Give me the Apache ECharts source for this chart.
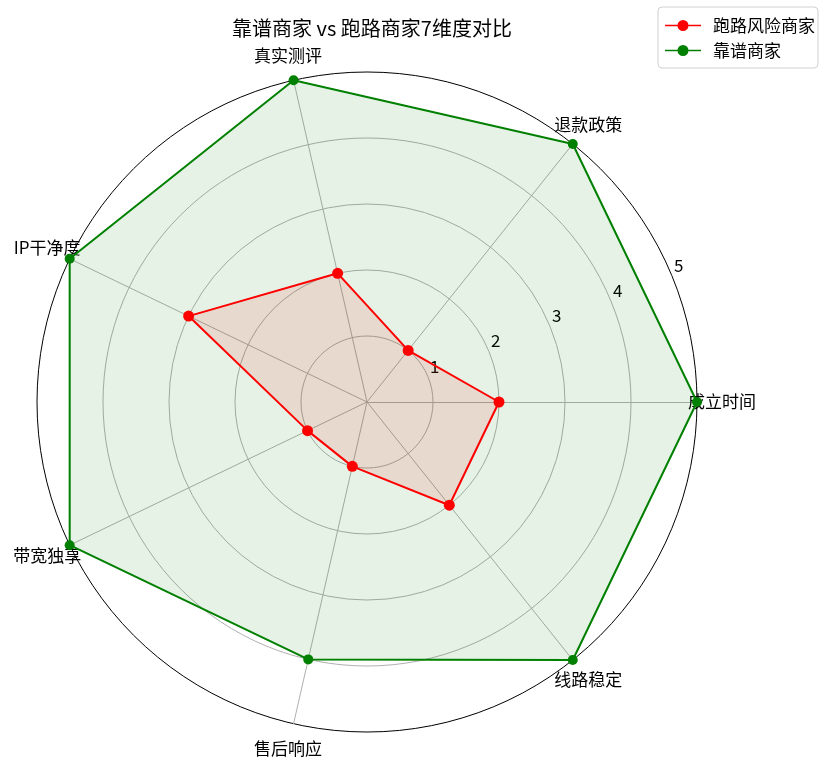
<!DOCTYPE html>
<html>
<head>
<meta charset="utf-8">
<script src="https://cdn.jsdelivr.net/npm/echarts@6/dist/echarts.min.js"></script>
<style>
  html, body { margin: 0; padding: 0; background: #fff; }
  #chart { width: 835px; height: 769px; }
</style>
</head>
<body>
<div id="chart"></div>
<script>
// 维度
var dimensions = ['成立时间', '退款政策', '真实测评', 'IP干净度', '带宽独享', '售后响应', '线路稳定'];
// 跑路风险商家
var riskyValues = [2, 1, 2, 3, 1, 1, 2];
// 靠谱商家
var reliableValues = [5, 5, 5, 5, 5, 4, 5];
var radialTicks = [1, 2, 3, 4, 5];
var maxValue = 5;

var font = '"Noto Sans CJK SC", "DejaVu Sans", sans-serif';
var legendIcon = 'path://M0,4.2H36V5.8H0Z M23.5,5A5.5,5.5 0 1,1 12.5,5A5.5,5.5 0 1,1 23.5,5Z';

var chart = echarts.init(document.getElementById('chart'));

var option = {
    backgroundColor: '#fff',
    animation: false,
    textStyle: { fontFamily: font },
    title: {
        text: '靠谱商家 vs 跑路商家7维度对比',
        left: 367,
        top: 13,
        textAlign: 'center',
        textStyle: { fontFamily: font, fontSize: 20, fontWeight: 'normal', color: '#000' }
    },
    legend: {
        right: 17,
        top: 7,
        orient: 'vertical',
        itemWidth: 36,
        itemHeight: 11,
        itemGap: 8,
        padding: [10, 3, 9, 7],
        borderColor: '#d0d0d0',
        borderWidth: 1,
        borderRadius: 4,
        backgroundColor: '#fff',
        textStyle: { fontFamily: font, fontSize: 17, color: '#000', padding: [0, 0, 0, 7] },
        data: [
            { name: '跑路风险商家', icon: legendIcon, itemStyle: { color: '#ff0000' } },
            { name: '靠谱商家', icon: legendIcon, itemStyle: { color: '#008000' } }
        ]
    },
    radar: {
        center: [367, 402],
        radius: 330,
        startAngle: 0,
        shape: 'circle',
        splitNumber: 5,
        indicator: dimensions.map(function (d) { return { name: d, min: 0, max: maxValue }; }),
        axisName: { color: '#000', fontSize: 17, fontFamily: font, align: 'center', verticalAlign: 'middle' },
        nameGap: 25,
        axisLine: { lineStyle: { color: '#b0b0b0', width: 1 } },
        axisTick: { show: false },
        axisLabel: { show: false },
        splitArea: { show: false },
        splitLine: {
            lineStyle: {
                color: ['#b0b0b0', '#b0b0b0', '#b0b0b0', '#b0b0b0', '#b0b0b0', '#000000'],
                width: 1
            }
        }
    },
    polar: {
        center: [367, 402],
        radius: 330
    },
    angleAxis: {
        type: 'value',
        startAngle: 22.5,
        min: 0,
        max: 360,
        show: false
    },
    radiusAxis: {
        type: 'value',
        min: 0,
        max: maxValue,
        interval: 1,
        axisLine: { show: false },
        axisTick: { show: false },
        splitLine: { show: false },
        axisLabel: {
            fontSize: 17,
            fontFamily: font,
            color: '#000',
            margin: 0,
            align: 'left',
            verticalAlign: 'bottom',
            padding: [0, 0, 2, 2],
            formatter: function (v) { return radialTicks.indexOf(v) >= 0 ? String(v) : ''; }
        }
    },
    series: [
        {
            name: '跑路风险商家',
            type: 'radar',
            symbol: 'circle',
            symbolSize: 11,
            z: 3,
            lineStyle: { color: '#ff0000', width: 2 },
            itemStyle: { color: '#ff0000' },
            areaStyle: { color: '#ff0000', opacity: 0.1 },
            data: [{ value: riskyValues, name: '跑路风险商家' }]
        },
        {
            name: '靠谱商家',
            type: 'radar',
            symbol: 'circle',
            symbolSize: 10,
            z: 2,
            lineStyle: { color: '#008000', width: 2 },
            itemStyle: { color: '#008000' },
            areaStyle: { color: '#008000', opacity: 0.1 },
            data: [{ value: reliableValues, name: '靠谱商家' }]
        }
    ]
};

chart.setOption(option);
</script>
</body>
</html>
